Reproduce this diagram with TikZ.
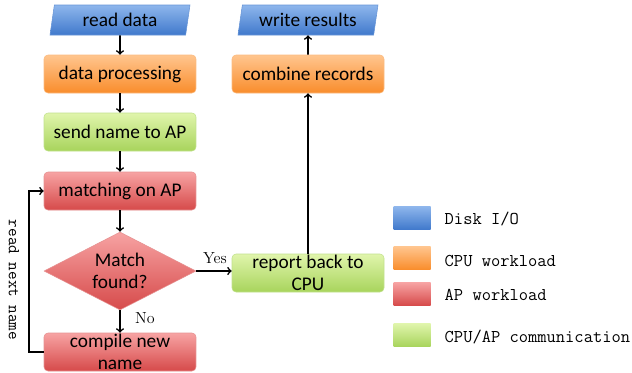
\documentclass[tikz,border=0pt]{standalone}
\usepackage{fontspec}
\newfontfamily\boxfont{Carlito}
\usetikzlibrary{shapes.geometric}

\definecolor{ioTop}{HTML}{8EB6EC}
\definecolor{ioBot}{HTML}{4079CC}
\definecolor{cpuTop}{HTML}{FFC58E}
\definecolor{cpuBot}{HTML}{F98D2C}
\definecolor{apTop}{HTML}{F7A3A3}
\definecolor{apBot}{HTML}{D64A4A}
\definecolor{comTop}{HTML}{E0F5AC}
\definecolor{comBot}{HTML}{A8D45C}

\begin{document}
\begin{tikzpicture}[x=0.75pt, y=-0.75pt,
  box/.style={rectangle, rounded corners=3pt, minimum width=114pt, minimum height=28.5pt,
    inner sep=1pt, align=center, font=\boxfont\fontsize{14.5}{16}\selectfont},
  iobox/.style={trapezium, trapezium left angle=75, trapezium right angle=105,
    trapezium stretches body, minimum width=105pt, minimum height=22.5pt, inner sep=1pt,
    top color=ioTop, bottom color=ioBot, draw=ioBot!80!white,
    font=\boxfont\fontsize{14.5}{16}\selectfont},
  cpu/.style={box, top color=cpuTop, bottom color=cpuBot, draw=cpuBot!60!white},
  ap/.style={box, top color=apTop, bottom color=apBot, draw=apBot!60!white},
  com/.style={box, top color=comTop, bottom color=comBot, draw=comBot!70!white},
  key/.style={rectangle, minimum width=27.75pt, minimum height=17.25pt, inner sep=0pt},
  keytext/.style={anchor=west, font=\ttfamily\fontsize{13.5}{14}\selectfont},
  flow/.style={->, line width=1.2pt},
  note/.style={font=\rmfamily\fontsize{12}{13}\selectfont}]
\useasboundingbox (0,0) rectangle (632,372);

%left column
\node[iobox] (read) at (120, 20) {read data};
\node[cpu] (proc) at (120, 74) {data processing};
\node[com] (send) at (120, 132) {send name to AP};
\node[ap] (match) at (120, 191) {matching on AP};
\node[diamond, aspect=1.95, minimum width=114pt, minimum height=58.5pt, inner sep=0pt,
  top color=apTop, bottom color=apBot, draw=apBot!60!white, align=center,
  font=\boxfont\fontsize{14.5}{17}\selectfont] (found) at (120, 271) {Match\\found?};
\node[ap] (compile) at (120, 352) {compile new\\name};

%right column
\node[iobox] (write) at (308, 20) {write results};
\node[cpu] (combine) at (308, 74) {combine records};
\node[com] (report) at (308, 273) {report back to\\CPU};

%connectors
\draw[flow] (read) -- (proc);
\draw[flow] (proc) -- (send);
\draw[flow] (send) -- (match);
\draw[flow] (match) -- (found);
\draw[flow] (found) -- (compile);
\draw[flow] (found.east) -- (found.east -| report.west);
\draw[flow] (report) -- (combine);
\draw[flow] (combine) -- (write);
\draw[flow] (compile.west) -- ++(-15,0) |- (match.west);

\node[note] (yes) at (215, 258) {Yes};
\node[note] (no) at (145, 318) {No};
\node[rotate=-90, font=\ttfamily\fontsize{12.5}{13}\selectfont] (loop) at (14, 280) {read next name};

%legend
\node[key, top color=ioTop, bottom color=ioBot] (k1) at (412, 218) {};
\node[key, top color=cpuTop, bottom color=cpuBot] (k2) at (412, 258) {};
\node[key, top color=apTop, bottom color=apBot] (k3) at (412, 294) {};
\node[key, top color=comTop, bottom color=comBot] (k4) at (412, 335) {};
\node[keytext] (t1) at (440, 219) {Disk I/O};
\node[keytext] (t2) at (440, 261) {CPU workload};
\node[keytext] (t3) at (440, 295) {AP workload};
\node[keytext] (t4) at (440, 337) {CPU/AP communication};
\end{tikzpicture}
\end{document}
